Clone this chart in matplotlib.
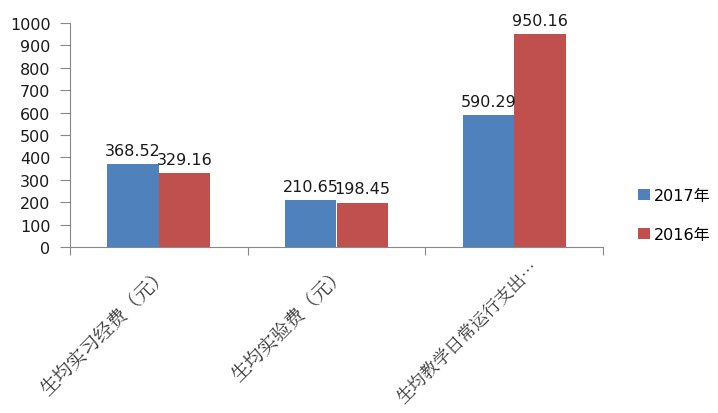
import matplotlib
matplotlib.use("Agg")
import matplotlib.pyplot as plt
import numpy as np

plt.rcParams['font.family'] = ['DejaVu Sans', 'Noto Sans CJK SC']

categories = ['生均实习经费（元）', '生均实验费（元）', '生均教学日常运行支出…']
series_names = ['2017年', '2016年']
values_2017 = [368.52, 210.65, 590.29]
values_2016 = [329.16, 198.45, 950.16]
colors = ['#4F81BD', '#C0504D']

fig = plt.figure(figsize=(7.18, 4.14), dpi=100)
ax = fig.add_axes([70 / 718, 1 - 248 / 414, (603 - 70) / 718, (248 - 24) / 414])

x = np.arange(len(categories))
w = 0.29
b1 = ax.bar(x - w / 2, values_2017, w, color=colors[0], label=series_names[0])
b2 = ax.bar(x + w / 2, values_2016, w, color=colors[1], label=series_names[1])

for bars, vals in [(b1, values_2017), (b2, values_2016)]:
    for r, v in zip(bars, vals):
        ax.text(r.get_x() + r.get_width() / 2, v + 28, f'{v:.2f}', ha='center', va='bottom',
                fontsize=11.5, color='#1a1a1a')

ax.set_xlim(-0.5, len(categories) - 0.5)
ax.set_ylim(0, 1000)
ax.set_yticks(np.arange(0, 1001, 100))
ax.set_xticks(np.arange(-0.5, len(categories), 1))
ax.set_xticklabels([])
ax.tick_params(axis='x', length=6, color='#888888', direction='out')
ax.tick_params(axis='y', length=7, color='#888888', direction='out', labelsize=11.5,
               pad=7, labelcolor='#1a1a1a')

label_dx = [0.0, 0.0, 0.09]
label_dy = [-70, -70, -45]
label_fs = [13.8, 13.8, 12.6]
for i, c in enumerate(categories):
    ax.text(i + label_dx[i], label_dy[i], c, rotation=45, ha='right', va='top', rotation_mode='anchor',
            fontsize=label_fs[i], color='#333333', family=['Noto Serif CJK SC', 'Noto Sans CJK SC', 'DejaVu Sans'],
            transform=ax.transData, clip_on=False)

for s in ['top', 'right']:
    ax.spines[s].set_visible(False)
for s in ['left', 'bottom']:
    ax.spines[s].set_color('#888888')

leg = fig.legend(handles=[b1, b2], labels=series_names, loc='center left',
                 bbox_to_anchor=(624 / 718, 1 - 216 / 414), frameon=False,
                 handlelength=0.7, handleheight=0.7, handletextpad=0.3,
                 labelspacing=1.5, prop={'family': ['DejaVu Sans', 'Noto Sans CJK SC'], 'size': 11.5})

fig.savefig('out.png', dpi=100)
